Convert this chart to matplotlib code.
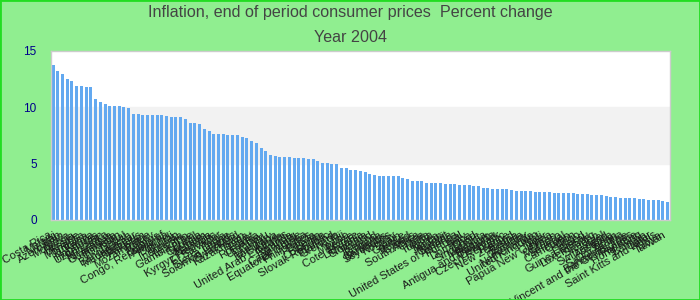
import matplotlib
matplotlib.use("Agg")
import matplotlib.pyplot as plt
from matplotlib.patches import Rectangle

# pays, classés par inflation décroissante
pays = [
    "Costa Rica", "Malawi", "Iran", "Azerbaijan", "Moldova", "Russia", "Ukraine", "Mongolia", "Jamaica", "Kenya",
    "Honduras", "Uzbekistan", "Sri Lanka", "Nicaragua", "Guatemala", "Tajikistan", "Nepal", "Bangladesh", "Madagascar", "Mauritius",
    "Pakistan", "Mozambique", "Turkey", "Belarus", "Congo, Republic of", "Armenia", "Burundi", "Bhutan", "Indonesia", "Lesotho",
    "Gambia, The", "Brazil", "Georgia", "Vietnam", "Namibia", "Kyrgyz Republic", "El Salvador", "India", "Sierra Leone", "Solomon Islands",
    "Swaziland", "Kazakhstan", "Tonga", "Egypt", "Romania", "Uruguay", "Peru", "Hungary", "Botswana", "Latvia",
    "United Arab Emirates", "Rwanda", "Vanuatu", "Cape Verde", "Equatorial Guinea", "Philippines", "Bolivia", "Benin", "Colombia", "Slovak Republic",
    "Thailand", "Grenada", "Fiji", "Mexico", "Belize", "Cote d'Ivoire", "Lithuania", "Slovenia", "Poland", "Iceland",
    "Bulgaria", "Barbados", "Seychelles", "Norway", "Spain", "Greece", "Ireland", "Cyprus", "South Africa", "China",
    "Malta", "Tunisia", "Korea", "Jordan", "Kuwait", "Canada", "United States of America", "Portugal", "Italy", "Dominica",
    "Chad", "Singapore", "Malaysia", "Belgium", "Antigua and Barbuda", "Denmark", "Czech Republic", "France", "New Zealand", "Austria",
    "Estonia", "Germany", "Netherlands", "United Kingdom", "Mali", "Niger", "Papua New Guinea", "Oman", "Morocco", "Senegal",
    "Cameroon", "Gabon", "Togo", "Finland", "Guinea-Bissau", "Luxembourg", "Sweden", "Israel", "Switzerland", "Australia",
    "Japan", "Saudi Arabia", "Bahamas, The", "St. Vincent and the Grenadines", "Panama", "Hong Kong", "Bahrain", "Qatar",
    "Saint Kitts and Nevis", "Libya", "Taiwan",
]

inflation = [
    13.8, 13.2, 13.0, 12.5, 12.3, 11.9, 11.9, 11.8, 11.8, 10.7,
    10.5, 10.3, 10.1, 10.1, 10.1, 10.0, 9.9, 9.4, 9.4, 9.3,
    9.3, 9.3, 9.3, 9.3, 9.2, 9.1, 9.1, 9.1, 9.0, 8.65,
    8.65, 8.5, 8.1, 7.9, 7.66, 7.66, 7.66, 7.57, 7.57, 7.5,
    7.4, 7.3, 7.0, 6.86, 6.4, 6.1, 5.8, 5.7, 5.6, 5.6,
    5.6, 5.5, 5.5, 5.5, 5.42, 5.42, 5.24, 5.06, 5.06, 4.97,
    4.97, 4.6, 4.6, 4.43, 4.43, 4.34, 4.25, 4.07, 3.98, 3.89,
    3.89, 3.89, 3.89, 3.89, 3.71, 3.62, 3.44, 3.44, 3.44, 3.26,
    3.26, 3.26, 3.26, 3.17, 3.17, 3.17, 3.08, 3.08, 3.08, 2.99,
    2.99, 2.81, 2.81, 2.72, 2.72, 2.72, 2.72, 2.63, 2.54, 2.54,
    2.54, 2.54, 2.5, 2.46, 2.46, 2.46, 2.37, 2.37, 2.37, 2.37,
    2.37, 2.28, 2.28, 2.28, 2.19, 2.19, 2.19, 2.1, 2.01, 2.01,
    1.92, 1.92, 1.92, 1.92, 1.83, 1.83, 1.74, 1.74, 1.74, 1.65,
    1.56,
]

yticks = [0, 5, 10, 15]

fond = "#90ee90"
bleu = "#63a9f0"
police_titre = ["Liberation Sans Narrow", "Liberation Sans", "DejaVu Sans"]
police = ["Liberation Sans", "DejaVu Sans"]

fig = plt.figure(figsize=(7, 3), dpi=100, facecolor=fond)
ax = fig.add_axes([0.0724, 0.2667, 0.8847, 0.5633])
ax.set_facecolor("white")

x = range(len(pays))
ax.axhspan(5, 10, color="#f2f2f2", zorder=0)
ax.bar(x, inflation, width=0.63, color=bleu, zorder=2)

ax.set_xlim(-0.5, len(pays) - 0.5)
ax.set_ylim(0, 15)
ax.set_yticks(yticks)
ax.set_yticklabels([str(v) for v in yticks], color="#00008b", fontsize=8.5, family=police)
ax.tick_params(axis="y", length=0, pad=10)

ax.set_xticks(list(x))
ax.set_xticklabels(pays, rotation=30, ha="right", fontsize=8, color="#1a1a1a", family=police)
ax.tick_params(axis="x", length=0, pad=7)

for s in ax.spines.values():
    s.set_color("#cccccc")
    s.set_linewidth(1)

fig.text(0.5, 1 - 13 / 300, "Inflation, end of period consumer prices  Percent change",
         ha="center", va="center", fontsize=11.6, color="#444444", family=police_titre)
fig.text(0.5, 1 - 37 / 300, "Year 2004",
         ha="center", va="center", fontsize=11.6, color="#444444", family=police_titre)

# bordure verte autour de l'image
fig.patches.append(Rectangle((0, 0), 1, 1, transform=fig.transFigure, fill=False,
                             edgecolor="#22dd22", linewidth=2, zorder=10))

fig.savefig("out.png", dpi=100, facecolor=fond)
